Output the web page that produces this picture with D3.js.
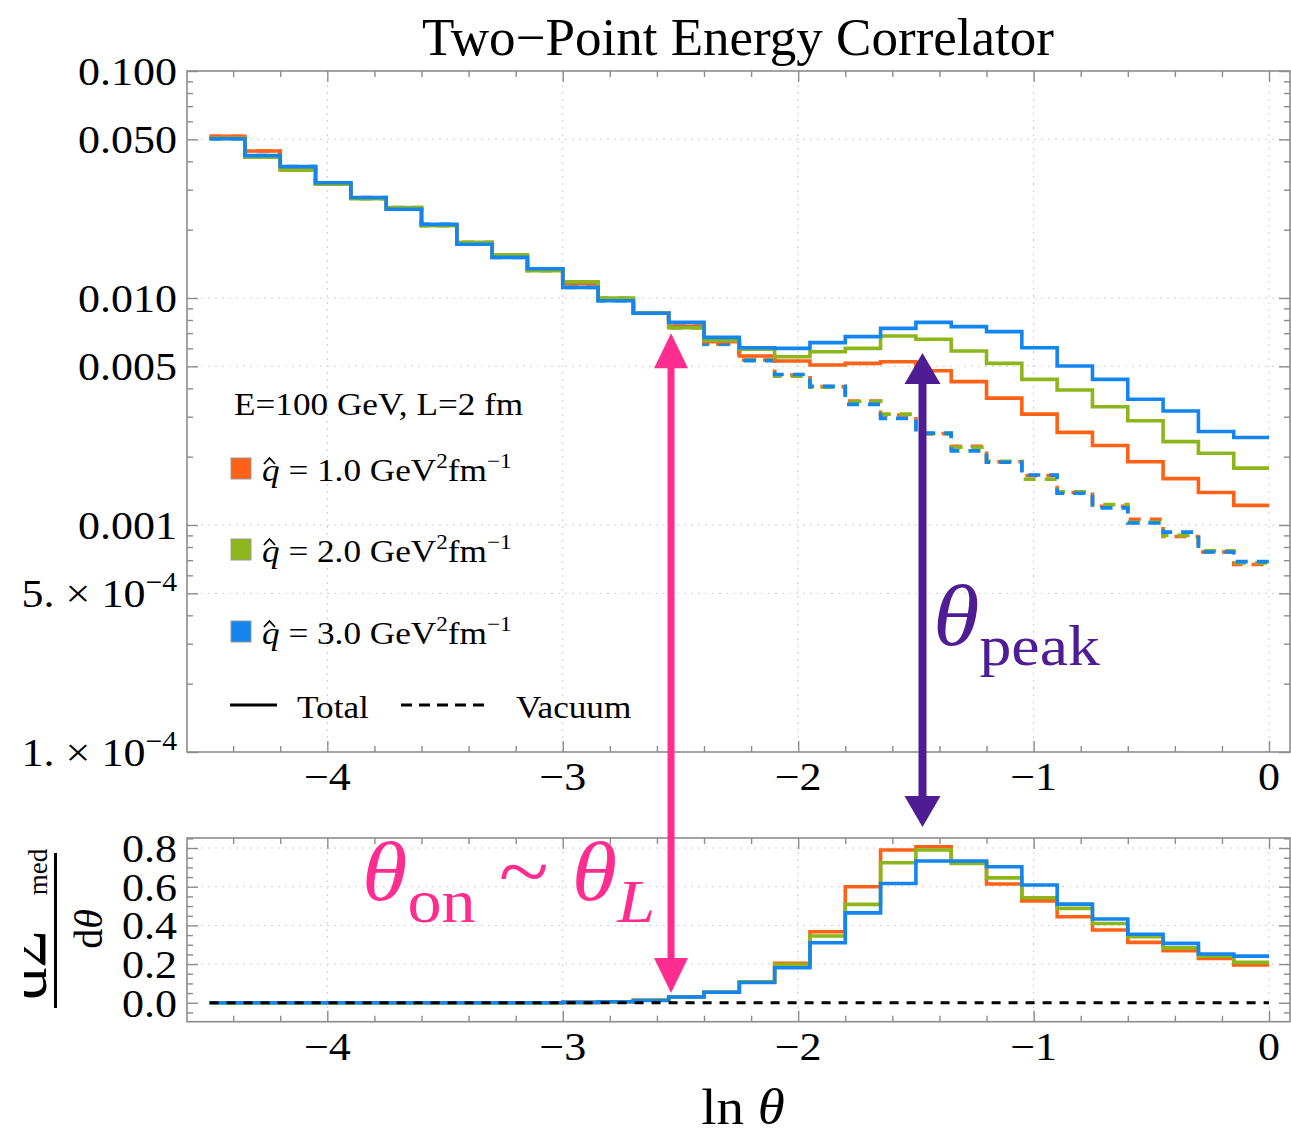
<!DOCTYPE html>
<html>
<head>
<meta charset="utf-8">
<script src="https://cdn.jsdelivr.net/npm/d3@7"></script>
<style>
  body { margin: 0; background: #fff; }
  svg text { font-family: "Liberation Serif", "Times New Roman", serif; fill: #000; }
</style>
</head>
<body>
<svg id="chart" width="1291" height="1135"></svg>
<script>
// bin edges in ln(theta)
const binEdges = [-4.5,-4.35,-4.2,-4.05,-3.9,-3.75,-3.6,-3.45,-3.3,-3.15,-3.0,-2.85,-2.7,-2.55,-2.4,-2.25,-2.1,-1.95,-1.8,-1.65,-1.5,-1.35,-1.2,-1.05,-0.9,-0.75,-0.6,-0.45,-0.3,-0.15,0];

const qhatValues = ["1.0", "2.0", "3.0"];
const colors = ["#ff6216", "#8cb61c", "#1485ee"];

// Total (solid), top panel
const totalQ1 = [0.0515,0.0444,0.0372,0.0320,0.0276,0.0247,0.0210,0.01745,0.0153,0.01335,0.0116,0.0099,0.0086,0.0075,0.00642,0.00555,0.00528,0.00507,0.00515,0.00524,0.00478,0.00428,0.00362,0.00308,0.00256,0.00224,0.0019,0.0016,0.00139,0.00122];
const totalQ2 = [0.0505,0.0417,0.0366,0.0317,0.0274,0.0250,0.0208,0.0176,0.0155,0.0132,0.0118,0.0100,0.0086,0.0074,0.0065,0.00595,0.00551,0.0058,0.0060,0.0068,0.00658,0.00584,0.00515,0.00438,0.00393,0.00332,0.00288,0.00233,0.00207,0.00178];
const totalQ3 = [0.0503,0.0424,0.0379,0.0322,0.0277,0.0246,0.0211,0.01724,0.0151,0.01346,0.01114,0.00973,0.00857,0.00781,0.00671,0.00604,0.0060,0.00636,0.00676,0.00735,0.00781,0.00748,0.00711,0.00604,0.00502,0.00438,0.00358,0.00318,0.00258,0.00243];

// Vacuum (dashed), top panel
const vacQ1 = [0.0515,0.0444,0.0372,0.0320,0.0276,0.0247,0.0210,0.01745,0.0153,0.01335,0.0116,0.0099,0.0086,0.0074,0.00627,0.00533,0.00458,0.00407,0.00352,0.00305,0.00253,0.00222,0.0019,0.00165,0.00139,0.00121,0.00106,0.00089,0.00076,0.00067];
const vacQ2 = [0.0505,0.0417,0.0366,0.0317,0.0274,0.0250,0.0208,0.0176,0.0155,0.0132,0.0118,0.0100,0.0086,0.0074,0.00625,0.00535,0.00452,0.00405,0.00350,0.00308,0.00252,0.00220,0.00191,0.00159,0.00140,0.00123,0.00103,0.00090,0.00077,0.00068];
const vacQ3 = [0.0503,0.0424,0.0379,0.0322,0.0277,0.0246,0.0211,0.01724,0.0151,0.01346,0.01114,0.00973,0.00857,0.0075,0.00627,0.00530,0.00460,0.00408,0.00340,0.00295,0.00254,0.00212,0.00189,0.00166,0.00138,0.00119,0.00102,0.00093,0.00076,0.00069];

// medium-induced part, bottom panel
const medQ1 = [0,0,0,0,0,0,0,0,0,0,0.002,0.005,0.013,0.031,0.054,0.107,0.204,0.367,0.60,0.79,0.807,0.729,0.614,0.527,0.445,0.376,0.312,0.269,0.229,0.195];
const medQ2 = [0,0,0,0,0,0,0,0,0,0,0.002,0.005,0.013,0.031,0.054,0.108,0.198,0.345,0.509,0.724,0.79,0.72,0.646,0.543,0.488,0.41,0.341,0.284,0.241,0.209];
const medQ3 = [0,0,0,0,0,0,0,0,0,0,0.002,0.005,0.012,0.030,0.054,0.105,0.181,0.31,0.465,0.617,0.733,0.733,0.703,0.609,0.51,0.433,0.354,0.307,0.252,0.241];

// ticks
const xMajor = [-4,-3,-2,-1,0];
const xMajorLabels = ["\u22124","\u22123","\u22122","\u22121","0"];
const xMinor = [-4.4,-4.2,-3.8,-3.6,-3.4,-3.2,-2.8,-2.6,-2.4,-2.2,-1.8,-1.6,-1.4,-1.2,-0.8,-0.6,-0.4,-0.2];
const yTopMajor = [0.1,0.05,0.01,0.005,0.001,5e-4,1e-4];
const yTopLabels = ["0.100","0.050","0.010","0.005","0.001","5. \u00d7 10^\u22124","1. \u00d7 10^\u22124"];
const yTopMinor = [2e-4,3e-4,4e-4,6e-4,7e-4,8e-4,9e-4,2e-3,3e-3,4e-3,6e-3,7e-3,8e-3,9e-3,0.02,0.03,0.04,0.06,0.07,0.08,0.09];
const yTopGrid = [0.05,0.01,0.005,0.001,5e-4];
const yBotMajor = [0,0.2,0.4,0.6,0.8];
const yBotLabels = ["0.0","0.2","0.4","0.6","0.8"];
const yBotMinor = [-0.05,0.05,0.1,0.15,0.25,0.3,0.35,0.45,0.5,0.55,0.65,0.7,0.75,0.85];

// annotation positions (data coords)
const onsetLn = -2.54, peakLn = -1.472;

const svg = d3.select("#chart");
svg.append("rect").attr("width", 1291).attr("height", 1135).attr("fill", "#fff");

const x = d3.scaleLinear().domain([-4.596, 0.089]).range([187, 1290]);
const yTop = d3.scaleLog().domain([1e-4, 0.1]).range([752, 71]);
const yBot = d3.scaleLinear().domain([-0.098, 0.852]).range([1021.7, 838]);

const frameCol = "#8c8c8c";
const gridCol = "#cfcfcf";

function stext(parent, px, py, anchor, size, sx = 1.1) {
    return parent.append("text")
        .attr("transform", `translate(${px},${py}) scale(${sx},1)`)
        .attr("text-anchor", anchor)
        .attr("font-size", size);
}

function supText(t, label, supSize, rise) {
    let parts = label.split("^");
    t.append("tspan").text(parts[0]);
    if (parts.length > 1) {
        t.append("tspan").attr("font-size", supSize).attr("dy", -rise).text(parts[1]);
    }
}

function panel(yS, xGridVals, yGridVals, yMaj, yMin) {
    let [x0, x1] = x.range();
    let [yb, yt] = yS.range();
    let g = svg.append("g");
    // grid
    g.selectAll(".gx").data(xGridVals).enter().append("line")
        .attr("x1", d => x(d)).attr("x2", d => x(d)).attr("y1", yt).attr("y2", yb)
        .attr("stroke", gridCol).attr("stroke-width", 1).attr("stroke-dasharray", "2,5");
    g.selectAll(".gy").data(yGridVals).enter().append("line")
        .attr("x1", x0).attr("x2", x1).attr("y1", d => yS(d)).attr("y2", d => yS(d))
        .attr("stroke", gridCol).attr("stroke-width", 1).attr("stroke-dasharray", "2,5");

    let ticks = (axisFn, scale, vals, size, tr) => {
        g.append("g").attr("transform", tr)
            .call(axisFn(scale).tickValues(vals).tickSize(-size).tickFormat(""))
            .call(s => s.select(".domain").remove())
            .selectAll("line").attr("stroke", frameCol).attr("stroke-width", 1.4);
    };
    ticks(d3.axisBottom, x, xMajor, 11, `translate(0,${yb})`);
    ticks(d3.axisBottom, x, xMinor, 6, `translate(0,${yb})`);
    ticks(d3.axisTop, x, xMajor, 11, `translate(0,${yt})`);
    ticks(d3.axisTop, x, xMinor, 6, `translate(0,${yt})`);
    ticks(d3.axisLeft, yS, yMaj, 11, `translate(${x0},0)`);
    ticks(d3.axisLeft, yS, yMin, 6, `translate(${x0},0)`);
    ticks(d3.axisRight, yS, yMaj, 11, `translate(${x1},0)`);
    ticks(d3.axisRight, yS, yMin, 6, `translate(${x1},0)`);

    g.append("rect").attr("x", x0).attr("y", yt).attr("width", x1 - x0).attr("height", yb - yt)
        .attr("fill", "none").attr("stroke", frameCol).attr("stroke-width", 1.6);

    // x tick labels
    xMajor.forEach((v, i) => {
        stext(g, x(v), yb + 38, "middle", 40).text(xMajorLabels[i]);
    });
    return g;
}

panel(yTop, xMajor, yTopGrid, yTopMajor, yTopMinor);
panel(yBot, xMajor, [0.2, 0.4, 0.6, 0.8], yBotMajor, yBotMinor);

yTopMajor.forEach((v, i) => {
    let t = stext(svg, 177, yTop(v) + 14, "end", 40);
    supText(t, yTopLabels[i], 27, 16);
});
yBotMajor.forEach((v, i) => {
    stext(svg, 177, yBot(v) + 14, "end", 40).text(yBotLabels[i]);
});

// step curves
const pts = vals => binEdges.map((e, i) => [e, vals[Math.min(i, vals.length - 1)]]);
const stepTop = d3.line().x(d => x(d[0])).y(d => yTop(d[1])).curve(d3.curveStepAfter);
const stepBot = d3.line().x(d => x(d[0])).y(d => yBot(d[1])).curve(d3.curveStepAfter);

const vacSeries = [vacQ1, vacQ2, vacQ3];
const totSeries = [totalQ1, totalQ2, totalQ3];
const medSeries = [medQ1, medQ2, medQ3];

vacSeries.forEach((s, i) => {
    svg.append("path").attr("d", stepTop(pts(s))).attr("fill", "none")
        .attr("stroke", colors[i]).attr("stroke-width", 3.6).attr("stroke-dasharray", "12,9");
});
totSeries.forEach((s, i) => {
    svg.append("path").attr("d", stepTop(pts(s))).attr("fill", "none")
        .attr("stroke", colors[i]).attr("stroke-width", 3.6);
});
medSeries.forEach((s, i) => {
    svg.append("path").attr("d", stepBot(pts(s))).attr("fill", "none")
        .attr("stroke", colors[i]).attr("stroke-width", 3.6);
});
svg.append("line").attr("x1", x(binEdges[0])).attr("x2", x(binEdges[binEdges.length - 1]))
    .attr("y1", yBot(0)).attr("y2", yBot(0))
    .attr("stroke", "#000").attr("stroke-width", 3.2).attr("stroke-dasharray", "9,8");

// title
stext(svg, 738, 55, "middle", 52, 1.02).text("Two\u2212Point Energy Correlator");

// x label
let xl = stext(svg, 743, 1124, "middle", 50);
xl.append("tspan").text("ln ");
xl.append("tspan").attr("font-style", "italic").text("\u03b8");

// legend
stext(svg, 234, 415, "start", 32).text("E=100 GeV, L=2 fm");
const legendRowY = [468, 549, 631];
qhatValues.forEach((q, i) => {
    let cy = legendRowY[i];
    svg.append("rect").attr("x", 231).attr("y", cy - 10).attr("width", 20).attr("height", 21)
        .attr("fill", colors[i]).attr("stroke", "#9a9a9a").attr("stroke-width", 1);
    let t = stext(svg, 262, cy + 13, "start", 32);
    t.append("tspan").attr("font-style", "italic").text("q");
    t.append("tspan").text(" = " + q + " GeV");
    t.append("tspan").attr("font-size", 21).attr("dy", -13).text("2");
    t.append("tspan").attr("dy", 13).text("fm");
    t.append("tspan").attr("font-size", 21).attr("dy", -13).text("\u22121");
    // hat over q
    svg.append("path").attr("d", `M${264},${cy - 4}L${269.5},${cy - 10}L${275},${cy - 4}`)
        .attr("fill", "none").attr("stroke", "#000").attr("stroke-width", 1.8);
});
svg.append("line").attr("x1", 230).attr("x2", 277).attr("y1", 705).attr("y2", 705)
    .attr("stroke", "#000").attr("stroke-width", 3);
stext(svg, 297, 718, "start", 32).text("Total");
svg.append("line").attr("x1", 401).attr("x2", 490).attr("y1", 705).attr("y2", 705)
    .attr("stroke", "#000").attr("stroke-width", 3).attr("stroke-dasharray", "11,7");
stext(svg, 516, 718, "start", 32).text("Vacuum");

// bottom-panel y label (rotated fraction, clipped at the left edge)
svg.append("defs").append("clipPath").attr("id", "ylabClip")
    .append("rect").attr("x", 24).attr("y", 830).attr("width", 100).attr("height", 200);
const yl = svg.append("g").attr("clip-path", "url(#ylabClip)");
yl.append("line").attr("x1", 55.5).attr("x2", 55.5).attr("y1", 853).attr("y2", 1008)
    .attr("stroke", "#000").attr("stroke-width", 3);
yl.append("text").attr("transform", "translate(46,965) rotate(-90)").attr("text-anchor", "middle")
    .attr("font-size", 64).text("d\u03a3");
yl.append("text").attr("transform", "translate(47,872) rotate(-90)").attr("text-anchor", "middle")
    .attr("font-size", 27).text("med");
let dth = yl.append("text").attr("transform", "translate(102,929) rotate(-90)").attr("text-anchor", "middle")
    .attr("font-size", 40);
dth.append("tspan").text("d");
dth.append("tspan").attr("font-style", "italic").text("\u03b8");

// annotations
const pink = "#ff2d8f", purple = "#4e1c93";
function dblArrow(xp, yA, yB, color, shaftW, headL, headW) {
    let g = svg.append("g");
    g.append("line").attr("x1", xp).attr("x2", xp).attr("y1", yA + headL - 2).attr("y2", yB - headL + 2)
        .attr("stroke", color).attr("stroke-width", shaftW);
    g.append("path").attr("d", `M${xp},${yA}L${xp - headW / 2},${yA + headL}L${xp + headW / 2},${yA + headL}Z`)
        .attr("fill", color);
    g.append("path").attr("d", `M${xp},${yB}L${xp - headW / 2},${yB - headL}L${xp + headW / 2},${yB - headL}Z`)
        .attr("fill", color);
}
dblArrow(x(onsetLn), yTop(0.0070), yBot(0.05), pink, 7, 35, 34);
dblArrow(x(peakLn), yTop(0.00573), yBot(0.909), purple, 8, 31, 36);

let ton = stext(svg, 362, 900, "start", 84);
ton.append("tspan").attr("font-style", "italic").attr("fill", pink).text("\u03b8");
ton.append("tspan").attr("font-size", 62).attr("dy", 22).attr("fill", pink).text("on");
ton.append("tspan").attr("dy", -22).attr("fill", pink).text(" ~ ");
ton.append("tspan").attr("font-style", "italic").attr("fill", pink).text("\u03b8");
ton.append("tspan").attr("font-size", 62).attr("font-style", "italic").attr("dy", 22).attr("fill", pink).text("L");

let tpk = stext(svg, 933, 645, "start", 86);
tpk.append("tspan").attr("font-style", "italic").attr("fill", purple).text("\u03b8");
tpk.append("tspan").attr("font-size", 58).attr("dy", 20).attr("fill", purple).text("peak");
</script>
</body>
</html>
